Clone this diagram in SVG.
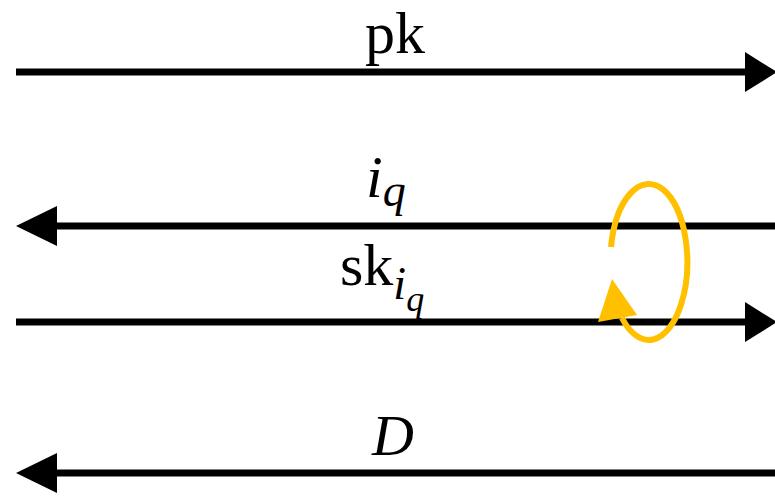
<svg xmlns="http://www.w3.org/2000/svg" width="775" height="497" viewBox="0 0 775 497">
<style>
.ln{stroke:#000;stroke-width:7;fill:none}
.hd{fill:#000}
.t{font-family:"Liberation Serif","DejaVu Serif",serif;fill:#000}
.it{font-style:italic}
.cyc{stroke:#FFC000;stroke-width:6;fill:none}
</style>
<rect width="775" height="497" fill="#fff"/>
<g id="connectors">
<line class="ln" x1="16" y1="72" x2="748" y2="72"/>
<polygon class="hd" points="745,52 777,72 745,92"/>
<line class="ln" x1="775" y1="226" x2="54" y2="226"/>
<polygon class="hd" points="57,206 16,226 57,246"/>
<line class="ln" x1="16" y1="322" x2="748" y2="322"/>
<polygon class="hd" points="745,302 777,322 745,342"/>
<line class="ln" x1="775" y1="473" x2="54" y2="473"/>
<polygon class="hd" points="57,453 16,473 57,493"/>
</g>
<g id="cycle">
<path class="cyc" d="M611 247 A38.5 78 0 1 1 622 318"/>
<polygon fill="#FFC000" points="612,279 598,322 637,315"/>
</g>
<g id="label-pk"><text class="t" x="395" y="53" font-size="60" text-anchor="middle">pk</text></g>
<g id="label-iq"><text class="t it" x="366" y="197" font-size="60">i<tspan font-size="46" dy="9">q</tspan></text></g>
<g id="label-sk"><text class="t" x="340" y="285" font-size="60">sk<tspan class="it" font-size="46" dy="14">i</tspan><tspan class="it" font-size="36" dy="12">q</tspan></text></g>
<g id="label-D"><text class="t it" x="372" y="455" font-size="58">D</text></g>
</svg>
